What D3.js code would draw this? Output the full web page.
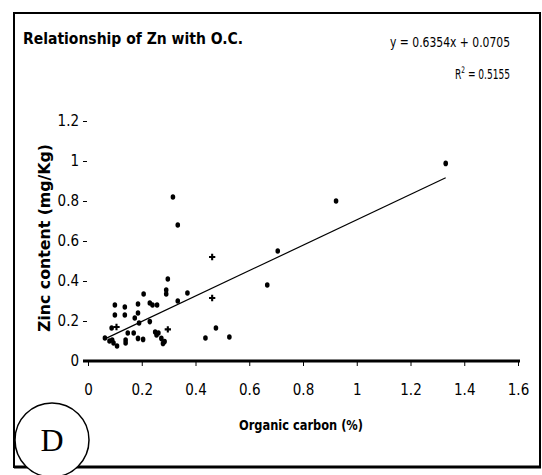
<!DOCTYPE html>
<html>
<head>
<meta charset="utf-8">
<script src="https://cdn.jsdelivr.net/npm/d3@7"></script>
<style>
  body { margin: 0; background: #fff; }
  svg { display: block; }
</style>
</head>
<body>
<svg></svg>
<script>
const width = 542;
const height = 475;

// organic carbon (%) and zinc (mg/Kg)
const carbon = [0.063, 0.08, 0.09, 0.095, 0.108, 0.088, 0.1, 0.1, 0.137, 0.137,
  0.14, 0.14, 0.148, 0.17, 0.186, 0.205, 0.186, 0.186, 0.19, 0.174,
  0.207, 0.23, 0.24, 0.257, 0.23, 0.25, 0.255, 0.262, 0.273, 0.279,
  0.285, 0.291, 0.291, 0.297, 0.334, 0.37, 0.316, 0.334, 0.476, 0.437,
  0.526, 0.667, 0.706, 0.923, 1.331];
const zinc = [0.115, 0.10, 0.105, 0.09, 0.075, 0.165, 0.23, 0.28, 0.27, 0.23,
  0.105, 0.09, 0.14, 0.14, 0.113, 0.108, 0.285, 0.24, 0.19, 0.215,
  0.335, 0.29, 0.28, 0.28, 0.197, 0.145, 0.13, 0.14, 0.113, 0.088,
  0.097, 0.355, 0.335, 0.41, 0.30, 0.34, 0.82, 0.68, 0.165, 0.115,
  0.12, 0.38, 0.55, 0.80, 0.988];
// the few points drawn as small crosses
const crossCarbon = [0.106, 0.297, 0.462, 0.462];
const crossZinc = [0.17, 0.158, 0.52, 0.315];

const slope = 0.6354;
const intercept = 0.0705;
const xTicks = [0, 0.2, 0.4, 0.6, 0.8, 1, 1.2, 1.4, 1.6];
const yTicks = [0, 0.2, 0.4, 0.6, 0.8, 1, 1.2];

const narrow = "'Liberation Sans Narrow', 'DejaVu Sans Condensed', 'Liberation Sans', sans-serif";

const svg = d3.select('svg')
  .attr('width', width)
  .attr('height', height);

const x = d3.scaleLinear().domain([0, 1.6]).range([88, 518]);
const y = d3.scaleLinear().domain([0, 1.2]).range([361, 121]);

// squeeze a label into the width it has in the picture
function squeeze(sel, len) {
  sel.attr('textLength', len).attr('lengthAdjust', 'spacingAndGlyphs');
}

// frame
svg.append('rect')
  .attr('x', 14).attr('y', 13)
  .attr('width', 526).attr('height', 454)
  .attr('fill', 'none')
  .attr('stroke', '#000')
  .attr('stroke-width', 2);
svg.append('line')
  .attr('x1', 14).attr('x2', 541)
  .attr('y1', 467).attr('y2', 467)
  .attr('stroke', '#000')
  .attr('stroke-width', 3);

svg.append('text')
  .attr('x', 23).attr('y', 44)
  .attr('font-family', narrow)
  .attr('font-weight', 'bold')
  .attr('font-size', 16)
  .text('Relationship of Zn with O.C.')
  .call(squeeze, 220);

svg.append('text')
  .attr('x', 390).attr('y', 47)
  .attr('font-family', narrow)
  .attr('font-size', 14)
  .text('y = 0.6354x + 0.0705')
  .call(squeeze, 120);

// R squared, drawn narrow like the rest of the lettering
const r2 = svg.append('g')
  .attr('transform', 'translate(455,79) scale(0.72,1)')
  .append('text')
  .attr('font-family', narrow)
  .attr('font-size', 14);
r2.append('tspan').text('R');
r2.append('tspan').attr('dy', -6).attr('font-size', 9).text('2');
r2.append('tspan').attr('dy', 6).text(' = 0.5155');

// y axis: tick dashes and labels only
const yAxis = svg.append('g')
  .attr('transform', 'translate(87,0)')
  .call(d3.axisLeft(y).tickValues(yTicks).tickSize(4).tickPadding(4)
    .tickFormat(d => d === 0 ? '0' : d3.format('~g')(d)));
yAxis.select('.domain').remove();
yAxis.selectAll('text')
  .attr('font-family', narrow)
  .attr('font-size', 15)
  .attr('fill', '#000');

// x axis
const xAxis = svg.append('g')
  .attr('transform', 'translate(0,361)')
  .call(d3.axisBottom(x).tickValues(xTicks).tickSize(5).tickPadding(18)
    .tickFormat(d3.format('~g')));
xAxis.select('.domain')
  .attr('d', 'M83,0H520')
  .attr('stroke-width', 3);
xAxis.selectAll('text')
  .attr('font-family', narrow)
  .attr('font-size', 15)
  .attr('fill', '#000');

svg.append('text')
  .attr('x', 301).attr('y', 430)
  .attr('text-anchor', 'middle')
  .attr('font-family', narrow)
  .attr('font-weight', 'bold')
  .attr('font-size', 14)
  .text('Organic carbon (%)')
  .call(squeeze, 124);

svg.append('text')
  .attr('transform', 'translate(50,238) rotate(-90)')
  .attr('text-anchor', 'middle')
  .attr('font-family', narrow)
  .attr('font-weight', 'bold')
  .attr('font-size', 16)
  .text('Zinc content (mg/Kg)')
  .call(squeeze, 188);

// trend line over the range of the data
const allX = carbon.concat(crossCarbon);
const x0 = d3.min(allX), x1 = d3.max(allX);
svg.append('line')
  .attr('x1', x(x0)).attr('y1', y(slope * x0 + intercept))
  .attr('x2', x(x1)).attr('y2', y(slope * x1 + intercept))
  .attr('stroke', '#000')
  .attr('stroke-width', 1.2);

svg.append('g')
  .selectAll('ellipse')
  .data(carbon.map((c, i) => [c, zinc[i]]))
  .enter().append('ellipse')
    .attr('cx', d => x(d[0]))
    .attr('cy', d => y(d[1]))
    .attr('rx', 2.3)
    .attr('ry', 2.8)
    .attr('fill', '#000');

svg.append('g')
  .selectAll('path')
  .data(crossCarbon.map((c, i) => [c, crossZinc[i]]))
  .enter().append('path')
    .attr('d', d3.symbol(d3.symbolCross, 22))
    .attr('transform', d => `translate(${x(d[0])},${y(d[1])})`)
    .attr('fill', '#000');

// "D" badge in the corner
svg.append('circle')
  .attr('cx', 52).attr('cy', 440)
  .attr('r', 37)
  .attr('fill', '#fff')
  .attr('stroke', '#000')
  .attr('stroke-width', 1.5);
svg.append('text')
  .attr('x', 52).attr('y', 451)
  .attr('text-anchor', 'middle')
  .attr('font-family', "'Liberation Serif', 'DejaVu Serif', serif")
  .attr('font-size', 32)
  .text('D');
</script>
</body>
</html>
